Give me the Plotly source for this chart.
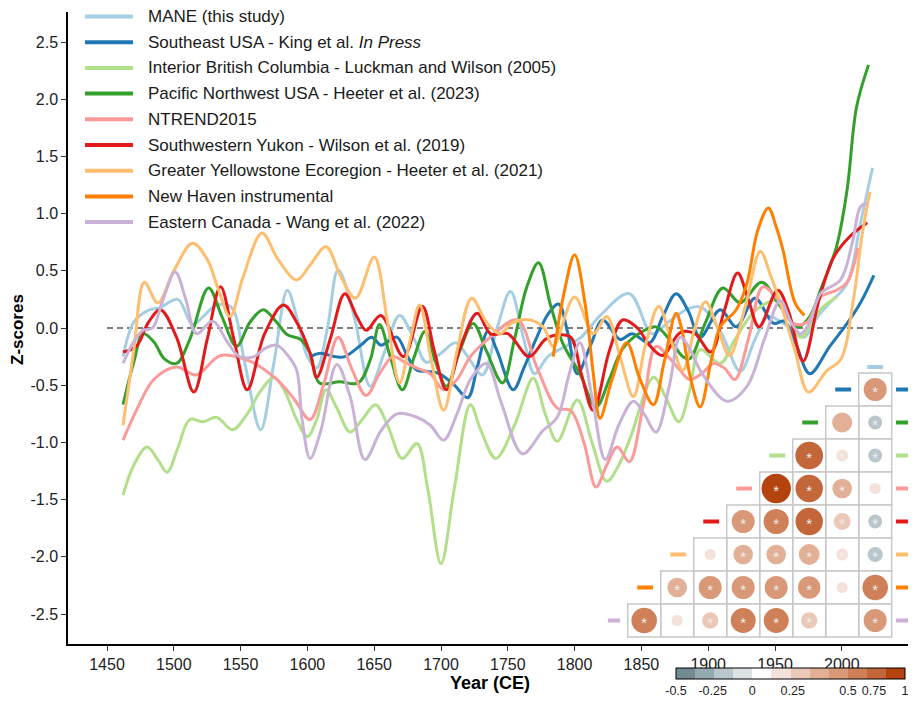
import numpy as np
import plotly.graph_objects as go

# ------------------------------------------------------------------ data
# (year, z-score) read from the smoothed curves of the reference
mane = [(1462,-0.25),(1470,0.05),(1480,0.15),(1490,0.18),(1503,0.25),(1514,0.03),(1522,0.10),
        (1532,0.20),(1543,0.18),(1553,-0.30),(1565,-0.89),(1575,-0.30),(1585,0.33),(1593,0.05),
        (1600,-0.25),(1607,-0.35),(1615,0.00),(1623,0.51),(1635,0.10),(1647,-0.51),(1658,-0.20),
        (1669,0.11),(1680,-0.10),(1689,-0.30),(1700,-0.22),(1711,-0.13),(1720,-0.25),(1731,-0.41),
        (1742,0.00),(1752,0.32),(1762,-0.10),(1770,-0.40),(1780,-0.25),(1795,-0.15),(1805,-0.08),
        (1820,0.12),(1841,0.30),(1858,-0.05),(1870,0.05),(1885,0.17),(1895,0.18),(1910,-0.05),
        (1924,-0.38),(1935,-0.10),(1945,0.10),(1955,0.05),(1966,-0.04),(1972,-0.08),(1982,0.10),
        (1991,0.22),(2004,0.39),(2014,0.92),(2023,1.40)]
se_usa = [(1602,-0.25),(1610,-0.22),(1620,-0.25),(1628,-0.25),(1640,-0.15),(1648,-0.08),(1655,-0.15),
          (1660,-0.12),(1667,-0.08),(1675,-0.25),(1682,-0.37),(1690,-0.38),(1699,-0.40),(1710,-0.50),
          (1720,-0.61),(1727,-0.35),(1735,-0.03),(1742,-0.20),(1754,-0.54),(1762,-0.35),(1771,-0.10),
          (1780,0.12),(1788,0.21),(1795,-0.05),(1802,-0.40),(1812,-0.15),(1821,0.07),(1834,-0.10),
          (1843,-0.05),(1856,-0.13),(1866,0.10),(1876,0.30),(1885,0.15),(1894,-0.08),(1909,0.16),
          (1921,0.01),(1935,0.26),(1949,0.04),(1957,0.06),(1966,-0.15),(1976,-0.40),(1991,-0.16),
          (2004,0.04),(2014,0.22),(2024,0.46)]
int_bc = [(1462,-1.46),(1470,-1.20),(1480,-1.04),(1488,-1.15),(1495,-1.26),(1503,-1.05),(1512,-0.80),
          (1522,-0.82),(1532,-0.78),(1544,-0.89),(1555,-0.75),(1565,-0.55),(1575,-0.43),(1583,-0.55),
          (1592,-0.80),(1600,-0.95),(1607,-0.80),(1614,-0.54),(1622,-0.70),(1632,-0.91),(1641,-0.80),
          (1651,-0.67),(1660,-0.85),(1671,-1.14),(1682,-1.01),(1690,-1.40),(1700,-2.06),(1710,-1.40),
          (1722,-0.67),(1730,-0.90),(1741,-1.14),(1755,-0.85),(1769,-0.44),(1778,-0.75),(1787,-0.99),
          (1802,-0.63),(1813,-1.00),(1824,-1.34),(1833,-1.20),(1842,-0.95),(1859,-0.43),(1868,-0.60),
          (1878,-0.82),(1886,-0.55),(1894,-0.19),(1909,-0.31),(1920,-0.10),(1936,0.16),(1954,0.24),
          (1969,-0.08),(1984,0.16),(1996,0.27)]
pnw = [(1462,-0.67),(1470,-0.30),(1477,-0.05),(1485,-0.12),(1493,-0.27),(1502,-0.31),(1512,-0.10),
       (1526,0.35),(1536,0.10),(1547,-0.16),(1557,0.05),(1567,0.16),(1577,0.05),(1585,-0.06),
       (1595,-0.10),(1602,-0.22),(1609,-0.48),(1624,-0.47),(1638,-0.48),(1647,-0.28),(1654,0.03),
       (1662,-0.25),(1671,-0.54),(1680,-0.25),(1688,-0.03),(1696,-0.30),(1704,-0.51),(1714,-0.20),
       (1724,0.04),(1734,-0.20),(1746,-0.48),(1755,-0.10),(1764,0.35),(1773,0.57),(1782,0.20),
       (1791,-0.13),(1804,-0.40),(1816,-0.69),(1826,-0.45),(1836,-0.18),(1848,-0.05),(1861,0.01),
       (1871,-0.10),(1881,-0.25),(1886,-0.27),(1898,0.05),(1911,0.35),(1924,0.22),(1940,0.40),
       (1954,0.19),(1967,0.01),(1976,0.10),(1984,0.33),(1996,0.71),(2004,1.21),(2011,1.93),(2020,2.30)]
ntrend = [(1462,-0.98),(1472,-0.72),(1485,-0.45),(1502,-0.34),(1517,-0.41),(1535,-0.24),(1557,-0.29),
          (1577,-0.45),(1590,-0.62),(1602,-0.80),(1612,-0.50),(1623,-0.08),(1633,-0.35),(1644,-0.59),
          (1654,-0.40),(1664,-0.25),(1673,-0.30),(1682,-0.35),(1692,-0.40),(1702,-0.54),(1712,-0.45),
          (1722,-0.25),(1737,-0.08),(1757,0.07),(1772,-0.35),(1787,-0.70),(1797,-0.72),(1807,-1.00),
          (1816,-1.39),(1824,-1.20),(1832,-1.04),(1841,-1.17),(1851,-0.70),(1861,-0.16),(1870,-0.25),
          (1879,-0.37),(1886,-0.45),(1895,-0.40),(1904,-0.31),(1912,-0.35),(1920,-0.45),(1930,-0.10),
          (1941,0.36),(1952,0.25),(1964,0.04),(1974,0.05),(1984,0.27),(1996,0.33),(2004,0.40),(2012,0.70)]
yukon = [(1462,-0.21),(1472,-0.16),(1481,0.05),(1490,0.16),(1502,-0.08),(1515,-0.56),(1525,-0.10),
         (1535,0.36),(1545,-0.10),(1555,-0.54),(1568,-0.05),(1582,0.20),(1592,0.05),(1602,-0.22),
         (1607,-0.43),(1617,-0.10),(1628,0.30),(1637,0.10),(1644,-0.02),(1655,0.11),(1672,-0.25),
         (1686,0.19),(1695,-0.20),(1704,-0.54),(1715,-0.15),(1727,0.13),(1737,-0.05),(1750,-0.05),
         (1766,-0.25),(1778,-0.10),(1787,-0.06),(1797,-0.08),(1805,-0.40),(1814,-0.72),(1826,-0.20),
         (1836,0.07),(1847,0.00),(1856,-0.15),(1866,-0.24),(1879,-0.04),(1890,-0.05),(1902,-0.21),
         (1912,0.15),(1922,0.48),(1930,0.25),(1938,0.01),(1952,0.33),(1960,0.15),(1971,-0.29),
         (1983,0.25),(1994,0.62),(2006,0.80),(2019,0.92)]
gye = [(1462,-0.85),(1470,-0.20),(1478,0.40),(1488,0.22),(1500,0.50),(1514,0.74),(1525,0.60),
       (1533,0.35),(1542,0.10),(1552,0.45),(1566,0.83),(1578,0.60),(1592,0.42),(1602,0.55),
       (1614,0.71),(1625,0.45),(1636,0.26),(1650,0.62),(1660,0.05),(1669,-0.48),(1677,-0.10),
       (1684,0.20),(1693,-0.30),(1702,-0.72),(1712,-0.20),(1723,0.26),(1734,0.05),(1744,-0.05),
       (1754,0.05),(1767,0.07),(1777,0.00),(1784,-0.16),(1800,0.27),(1814,-0.05),(1824,0.10),
       (1834,-0.25),(1844,-0.60),(1853,-0.15),(1863,0.19),(1872,-0.10),(1881,-0.37),(1890,0.00),
       (1898,0.23),(1907,0.00),(1916,-0.24),(1928,0.20),(1939,0.67),(1947,0.45),(1954,0.22),
       (1965,-0.20),(1975,-0.56),(1989,-0.37),(1999,-0.28),(2009,0.27),(2015,0.80),(2021,1.19)]
new_haven = [(1784,-0.25),(1792,0.30),(1800,0.64),(1808,0.20),(1814,-0.40),(1819,-0.79),(1828,-0.45),
             (1839,-0.13),(1849,-0.45),(1859,-0.67),(1867,-0.30),(1876,0.13),(1880,0.00),(1887,-0.45),
             (1894,-0.69),(1902,-0.30),(1909,0.01),(1921,0.16),(1929,0.39),(1937,0.85),(1945,1.05),
             (1951,0.88),(1956,0.68),(1965,0.22),(1972,0.11)]
east_can = [(1462,-0.31),(1470,-0.12),(1477,-0.02),(1484,0.00),(1492,0.25),(1501,0.49),(1509,0.25),
            (1517,-0.05),(1529,0.06),(1540,-0.12),(1549,-0.25),(1560,-0.25),(1568,-0.18),(1577,-0.15),
            (1586,-0.25),(1592,-0.37),(1596,-0.80),(1602,-1.14),(1610,-0.90),(1622,-0.32),(1632,-0.60),
            (1643,-1.15),(1655,-0.90),(1667,-0.75),(1682,-0.78),(1692,-0.85),(1702,-0.98),(1712,-0.75),
            (1722,-0.45),(1734,-0.31),(1745,-0.65),(1761,-1.10),(1776,-0.90),(1787,-0.78),(1796,-0.40),
            (1804,-0.13),(1813,-0.60),(1823,-1.15),(1833,-0.85),(1844,-0.64),(1852,-0.75),(1861,-0.91),
            (1871,-0.50),(1879,-0.08),(1887,-0.20),(1894,-0.37),(1914,-0.64),(1929,-0.51),(1942,-0.10),
            (1954,0.24),(1962,0.05),(1969,-0.05),(1976,0.05),(1984,0.30),(1999,0.42),(2008,0.75),
            (2014,1.06),(2019,1.09)]

series_keys = ["mane", "se_usa", "int_bc", "pnw", "ntrend", "yukon", "gye", "new_haven", "east_can"]
series_data = [mane, se_usa, int_bc, pnw, ntrend, yukon, gye, new_haven, east_can]
series_names = ["MANE (this study)",
                "Southeast USA - King et al. <i>In Press</i>",
                "Interior British Columbia - Luckman and Wilson (2005)",
                "Pacific Northwest USA - Heeter et al. (2023)",
                "NTREND2015",
                "Southwestern Yukon - Wilson et al. (2019)",
                "Greater Yellowstone Ecoregion - Heeter et al. (2021)",
                "New Haven instrumental",
                "Eastern Canada - Wang et al. (2022)"]
series_colors = ["#a6cee3", "#1f78b4", "#b2df8a", "#33a02c", "#fb9a99",
                 "#e31a1c", "#fdbf6f", "#ff7f00", "#cab2d6"]

x_ticks = [1450, 1500, 1550, 1600, 1650, 1700, 1750, 1800, 1850, 1900, 1950, 2000]
y_ticks = [-2.5, -2.0, -1.5, -1.0, -0.5, 0.0, 0.5, 1.0, 1.5, 2.0, 2.5]
y_ticktext = ["-2.5", "-2.0", "-1.5", "-1.0", "-0.5", "0.0", "0.5", "1.0", "1.5", "2.0", "2.5"]
zero_line_years = [1450, 2025]

# correlation matrix (lower triangle): order of rows/columns
corr_order = ["mane", "se_usa", "pnw", "int_bc", "ntrend", "yukon", "gye", "new_haven", "east_can"]
# corr_values[i] = correlations of corr_order[i+1] with corr_order[0..i]
corr_values = [[0.55],
               [-0.20, 0.42],
               [-0.20, 0.15, 0.80],
               [0.13, 0.40, 0.78, 0.90],
               [-0.20, 0.30, 0.78, 0.66, 0.55],
               [-0.24, 0.15, 0.45, 0.40, 0.40, 0.13],
               [0.68, 0.13, 0.52, 0.55, 0.55, 0.55, 0.40],
               [0.55, 0.00, 0.28, 0.65, 0.65, 0.28, 0.13, 0.68]]
corr_signif = [[1],
               [1, 0],
               [1, 1, 1],
               [0, 1, 1, 1],
               [1, 1, 1, 1, 1],
               [1, 1, 1, 1, 1, 0],
               [1, 0, 1, 1, 1, 1, 1],
               [1, 0, 1, 1, 1, 1, 0, 1]]

cbar_colors = ["#728a92", "#94aab0", "#b8c7cb", "#dbe3e5", "#ffffff", "#f4e2da",
               "#ebc9b8", "#e2b097", "#d99878", "#cf8058", "#c3663a", "#b4430e"]
cbar_min, cbar_max = -0.5, 1.0
cbar_tickvals = [-0.5, -0.26, 0.0, 0.265, 0.627, 0.797, 1.0]
cbar_ticktext = ["-0.5", "-0.25", "0", "0.25", "0.5", "0.75", "1"]

# ------------------------------------------------------------------ layout geometry
# The page body adds an 8px offset, so the figure is 8px smaller than the window.
OFF = 8
W, H = 916 - OFF, 704 - OFF
ML, MR, MT, MB = 68 - OFF, 0, 12 - OFF, 60
PW, PH = W - ML - MR, H - MT - MB
FONT = "Liberation Sans, Arial, Helvetica, sans-serif"


def px_x(px):
    """screen pixel -> paper x"""
    return (px - OFF - ML) / PW


def px_y(py):
    """screen pixel -> paper y"""
    return (H - MB - (py - OFF)) / PH


fig = go.Figure()

# zero reference line
fig.add_trace(go.Scatter(x=zero_line_years, y=[0, 0], mode="lines",
                         line=dict(color="#555555", width=1.5, dash="6px,4px"),
                         showlegend=False, hoverinfo="skip"))

for data, name, col in zip(series_data, series_names, series_colors):
    yr = [p[0] for p in data]
    zv = [p[1] for p in data]
    fig.add_trace(go.Scatter(x=yr, y=zv, mode="lines", name=name,
                             line=dict(color=col, width=3, shape="spline", smoothing=1.0),
                             showlegend=False))

# ------------------------------------------------------------------ correlation inset
CELL = 33.0
GX0, GY0 = 627.7, 637.0          # screen pixel of grid origin (lower-left)
x2_range = [-0.6, 8.73]
y2_range = [-0.15, 8.45]
x2_dom = [px_x(GX0 + x2_range[0] * CELL), min(1.0, px_x(GX0 + x2_range[1] * CELL))]
y2_dom = [px_y(GY0 - y2_range[0] * CELL), px_y(GY0 - y2_range[1] * CELL)]

color_of = dict(zip(series_keys, series_colors))
n = len(corr_order) - 1   # 8

cx, cy, cval, csize, sx, sy = [], [], [], [], [], []
shapes = []
for i, row in enumerate(corr_values):
    r = i + 1                       # row 1 = top
    yc = n + 0.5 - r
    for j, v in enumerate(row):
        c = n - j                   # column index 1..8 from left
        xc = c - 0.5
        shapes.append(dict(type="rect", xref="x2", yref="y2", x0=c - 1, x1=c, y0=yc - 0.5, y1=yc + 0.5,
                           line=dict(color="#c8c8c8", width=1.5), fillcolor="white", layer="below"))
        cx.append(xc)
        cy.append(yc)
        cval.append(v)
        csize.append(31 * np.sqrt(abs(v)))
        if corr_signif[i][j]:
            sx.append(xc)
            sy.append(yc - 0.1)
    # row labels: left dash next to the first cell, right dash after the grid
    rc = color_of[corr_order[r]]
    first = n - r
    shapes.append(dict(type="line", xref="x2", yref="y2", x0=first - 0.71, x1=first - 0.23, y0=yc, y1=yc,
                       line=dict(color=rc, width=4)))
    shapes.append(dict(type="line", xref="x2", yref="y2", x0=n + 0.13, x1=n + 0.61, y0=yc, y1=yc,
                       line=dict(color=rc, width=4)))
# column label on top of the last column (MANE)
shapes.append(dict(type="line", xref="x2", yref="y2", x0=n - 0.74, x1=n - 0.26, y0=n + 0.18, y1=n + 0.18,
                   line=dict(color=color_of[corr_order[0]], width=4)))

cscale = []
for k, c in enumerate(cbar_colors):
    cscale.append([k / len(cbar_colors), c])
    cscale.append([(k + 1) / len(cbar_colors), c])

fig.add_trace(go.Scatter(
    x=cx, y=cy, xaxis="x2", yaxis="y2", mode="markers", showlegend=False, hoverinfo="skip",
    marker=dict(size=csize, color=cval, colorscale=cscale, cmin=cbar_min, cmax=cbar_max,
                line=dict(width=0), opacity=1,
                showscale=True,
                colorbar=dict(orientation="h", lenmode="pixels", len=229, thickness=11,
                              x=px_x(676), xanchor="left", y=px_y(668), yanchor="top",
                              xpad=0, ypad=0, outlinecolor="black", outlinewidth=1,
                              tickvals=cbar_tickvals, ticktext=cbar_ticktext, ticks="",
                              tickangle=0,
                              tickfont=dict(family=FONT, size=12.5, color="#222222")))))
fig.add_trace(go.Scatter(x=sx, y=sy, xaxis="x2", yaxis="y2", mode="text", text=["*"] * len(sx),
                         textfont=dict(family=FONT, size=15, color="#eeeeee"),
                         showlegend=False, hoverinfo="skip"))

# ------------------------------------------------------------------ manual legend
annotations = []
for k, (name, col) in enumerate(zip(series_names, series_colors)):
    yk = 16.5 + k * 25.7
    shapes.append(dict(type="line", xref="paper", yref="paper", x0=px_x(85), x1=px_x(133),
                       y0=px_y(yk), y1=px_y(yk), line=dict(color=col, width=4)))
    annotations.append(dict(text=name, xref="paper", yref="paper", x=px_x(146), y=px_y(yk),
                            xanchor="left", yanchor="middle", showarrow=False,
                            font=dict(family=FONT, size=17, color="#1a1a1a")))

annotations.append(dict(text="<b>Year (CE)</b>", xref="paper", yref="paper", x=px_x(490), y=px_y(683),
                        xanchor="center", yanchor="middle", showarrow=False,
                        font=dict(family=FONT, size=18, color="black")))
annotations.append(dict(text="<b>Z-scores</b>", xref="paper", yref="paper", x=px_x(17), y=px_y(330),
                        xanchor="center", yanchor="middle", textangle=-90, showarrow=False,
                        font=dict(family=FONT, size=17, color="black")))

x_range = [1450 - 39 / 1.336, 1450 + 809 / 1.336]
y_half = 316 / 114.4

fig.update_layout(
    width=W, height=H,
    margin=dict(l=ML, r=MR, t=MT, b=MB, autoexpand=False),
    paper_bgcolor="white", plot_bgcolor="rgba(0,0,0,0)",
    font=dict(family=FONT, size=16, color="#222222"),
    showlegend=False,
    xaxis=dict(range=x_range, tickvals=x_ticks, ticks="outside", ticklen=5, tickwidth=1,
               tickcolor="#333333", showline=True, linecolor="black", linewidth=1.5,
               showgrid=False, zeroline=False, tickfont=dict(size=16, color="#222222")),
    yaxis=dict(range=[-y_half, y_half], tickvals=y_ticks, ticktext=y_ticktext, ticks="outside",
               ticklen=5, tickwidth=1, tickcolor="#333333", showline=True, linecolor="black",
               linewidth=1.5, showgrid=False, zeroline=False, tickfont=dict(size=16, color="#222222")),
    xaxis2=dict(domain=x2_dom, range=x2_range, visible=False, anchor="y2", fixedrange=True),
    yaxis2=dict(domain=y2_dom, range=y2_range, visible=False, anchor="x2", fixedrange=True),
    shapes=shapes,
    annotations=annotations,
)

fig.write_html("out.html")
